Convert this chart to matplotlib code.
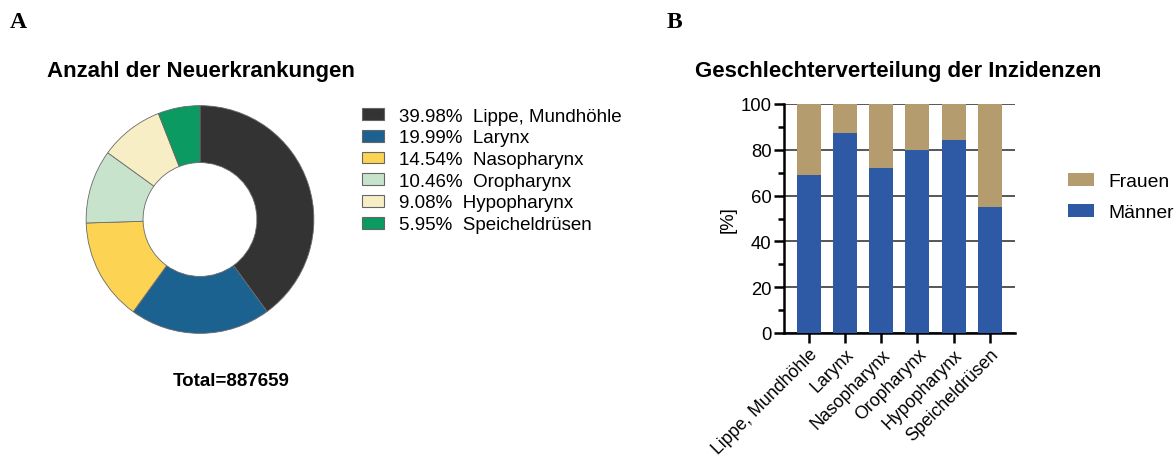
import matplotlib
matplotlib.use("Agg")
import matplotlib.pyplot as plt
from matplotlib.patches import Patch
import numpy as np

# ---- data ----
pie_categories = ["Lippe, Mundhöhle", "Larynx", "Nasopharynx", "Oropharynx", "Hypopharynx", "Speicheldrüsen"]
pie_shares = [39.98, 19.99, 14.54, 10.46, 9.08, 5.95]
pie_colors = ["#333333", "#1c6291", "#fcd352", "#c8e3cc", "#f8eec5", "#0a9a62"]
total_cases = 887659

bar_categories = ["Lippe, Mundhöhle", "Larynx", "Nasopharynx", "Oropharynx", "Hypopharynx", "Speicheldrüsen"]
maenner = [69.0, 87.5, 72.1, 79.9, 84.3, 55.2]
frauen = [100 - m for m in maenner]
yticks = [0, 20, 40, 60, 80, 100]

plt.rcParams['font.family'] = ['Liberation Sans', 'DejaVu Sans']

W, H = 1175, 456
fig = plt.figure(figsize=(W / 100, H / 100), dpi=100)

def box(x0, y0, x1, y1):
    return [x0 / W, 1 - y1 / H, (x1 - x0) / W, (y1 - y0) / H]

# ---- panel labels ----
fig.text(10 / W, 1 - 22 / H, "A", family="Liberation Serif", fontweight="bold", fontsize=17, va="center", ha="left")
fig.text(667 / W, 1 - 22 / H, "B", family="Liberation Serif", fontweight="bold", fontsize=17, va="center", ha="left")

# ---- Pie / donut ----
axp = fig.add_axes(box(85, 105.5, 315, 335.5))
wedges, _ = axp.pie(pie_shares, colors=pie_colors, startangle=90, counterclock=False,
                    radius=1.0, wedgeprops=dict(width=0.5, edgecolor="#6a6a6a", linewidth=0.6))
axp.set_xlim(-1.01, 1.01)
axp.set_ylim(-1.01, 1.01)
axp.set_aspect("equal")
axp.axis("off")

fig.text(201 / W, 1 - 72 / H, "Anzahl der Neuerkrankungen", fontweight="bold", fontsize=16,
         ha="center", va="center")
fig.text(231 / W, 1 - 382 / H, f"Total={total_cases}", fontweight="bold", fontsize=13.5,
         ha="center", va="center")

handles = [Patch(facecolor=c, edgecolor="#666666", linewidth=0.8) for c in pie_colors]
labels = [f"{s:.2f}%  {n}" for s, n in zip(pie_shares, pie_categories)]
fig.legend(handles, labels, loc="upper left", bbox_to_anchor=(358 / W, 1 - 105 / H),
           frameon=False, fontsize=13.5, handlelength=1.2, handleheight=0.6,
           handletextpad=0.8, labelspacing=0.25, borderaxespad=0, borderpad=0.2)

# ---- Stacked bar ----
axb = fig.add_axes(box(784, 105, 1015, 334))
x = np.arange(len(bar_categories))
axb.bar(x, maenner, width=0.66, color="#2e59a5", zorder=3, label="Männer")
axb.bar(x, frauen, width=0.66, bottom=maenner, color="#b59c6e", zorder=3, label="Frauen")
axb.set_xlim(-0.68, 5.69)
axb.set_ylim(0, 100)
axb.set_yticks(yticks)
axb.set_yticks(np.arange(10, 100, 20), minor=True)
axb.yaxis.grid(True, color="#3a3a3a", linewidth=1.2, zorder=0)
axb.set_axisbelow(True)
for s in ["top", "right"]:
    axb.spines[s].set_visible(False)
for s in ["left", "bottom"]:
    axb.spines[s].set_linewidth(1.8)
axb.tick_params(axis="y", which="major", length=7, width=1.8, labelsize=13.3, pad=2)
axb.tick_params(axis="y", which="minor", length=4, width=1.8)
axb.tick_params(axis="x", length=7, width=1.8, labelsize=12.8, pad=2)
axb.set_xticks(x)
axb.set_xticklabels(bar_categories, rotation=45, ha="right", rotation_mode="anchor")
axb.set_ylabel("[%]", fontsize=13.3, labelpad=3)

fig.text(898 / W, 1 - 72 / H, "Geschlechterverteilung der Inzidenzen", fontweight="bold", fontsize=16,
         ha="center", va="center")

bh = [Patch(facecolor="#b59c6e"), Patch(facecolor="#2e59a5")]
fig.legend(bh, ["Frauen", "Männer"], loc="upper left", bbox_to_anchor=(1064 / W, 1 - 170 / H),
           frameon=False, fontsize=13.9, handlelength=1.35, handleheight=0.7,
           handletextpad=0.75, labelspacing=0.69, borderaxespad=0, borderpad=0.2)

fig.savefig("out.png", dpi=100)
